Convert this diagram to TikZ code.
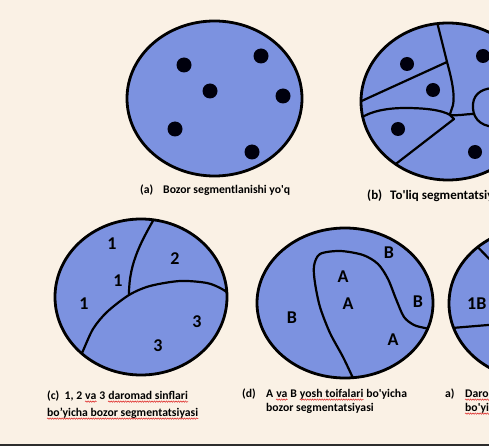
\documentclass[tikz,border=0pt]{standalone}
\usepackage{fontspec}
\setmainfont{Carlito}
\usetikzlibrary{decorations.pathmorphing}
\definecolor{bg}{RGB}{250,241,229}
\definecolor{blob}{RGB}{124,146,224}
\definecolor{rulecol}{RGB}{45,45,45}
\definecolor{wavered}{RGB}{220,30,30}
\tikzset{
  border/.style={draw=black, line width=2.8pt},
  inner/.style={draw=black, line width=2.2pt, line cap=round, line join=round},
  dot/.style={fill=black!95!blue},
  captxt/.style={anchor=base west, inner sep=0pt, font=\fontsize{11.7}{14}\selectfont\bfseries},
  bigcap/.style={captxt, font=\fontsize{13}{15}\selectfont\bfseries},
  lbl/.style={inner sep=0pt, font=\fontsize{18}{20}\selectfont\bfseries},
  wave/.style={draw=wavered, line width=0.5pt, decorate, decoration={snake, amplitude=0.7pt, segment length=2.4pt}},
}
\newcommand\wavenode[1]{\draw[wave] ([yshift=-2.6pt]#1.base west) -- ([yshift=-2.6pt]#1.base east);}
\begin{document}
\begin{tikzpicture}[x=1pt,y=-1pt]
\useasboundingbox (0,0) rectangle (489,446);
\fill[bg] (0,0) rectangle (489,446);
\clip (0,0) rectangle (489,446);
% ---------- (a)
\fill[blob] (214.5,98.5) ellipse [x radius=87.5pt, y radius=77.5pt];
\foreach \p in {(184,65),(261,56),(210,91),(283,96),(175,129),(252,152)}
  \fill[dot] \p circle [radius=7.5pt];
\draw[border] (214.5,98.5) ellipse [x radius=87.5pt, y radius=77.5pt];
\node[captxt] (capa1) at (140,193.5) {(a)};
\node[captxt] (capa2) at (163,193.5) {Bozor segmentlanishi yo\textquotesingle q};
% ---------- (b)
\begin{scope}
\clip (448,101.5) ellipse [x radius=87pt, y radius=78.5pt];
\fill[blob] (448,101.5) ellipse [x radius=87pt, y radius=78.5pt];
\draw[inner] (436,18) -- (447,62) .. controls (452,80) and (455,95) .. (453,105) -- (450,114);
\draw[inner] (447,62) -- (355,104);
\draw[inner] (355,123) .. controls (365,112) and (385,108) .. (405,108) .. controls (425,108) and (442,110) .. (450,115);
\draw[inner] (450,115) -- (454,119);
\draw[inner] (454,119) -- (388,170);
\draw[inner] (450,115) .. controls (458,116) and (465,114) .. (474,114);
\draw[inner] (495,88) .. controls (485,88) and (474,92) .. (473,104) .. controls (472,116) and (478,126) .. (495,127);
\end{scope}
\foreach \p in {(407,64),(433,90),(398,129),(475,152),(483,56)}
  \fill[dot] \p circle [radius=7pt];
\draw[border] (448,101.5) ellipse [x radius=87pt, y radius=78.5pt];
\node[bigcap] (capb1) at (367,199.5) {(b)};
\node[bigcap] (capb2) at (390,199.5) {To\textquotesingle liq segmentatsiya};
% ---------- (c)
\begin{scope}
\clip (141,297) ellipse [x radius=86pt, y radius=78pt];
\fill[blob] (141,297) ellipse [x radius=86pt, y radius=78pt];
\draw[inner] (158,212) .. controls (142,240) and (129,262) .. (129,294);
\draw[inner] plot[smooth] coordinates {(76,364) (82,353) (93,329) (107,312) (129,295) (150,286) (180,281) (207,283) (222,289) (232,296)};
\end{scope}
\draw[border] (141,297) ellipse [x radius=86pt, y radius=78pt];
\node[lbl] (c1) at (112,244) {1};
\node[lbl] (c2) at (175,259) {2};
\node[lbl] (c3) at (118,281) {1};
\node[lbl] (c4) at (84,304) {1};
\node[lbl] (c5) at (197,322) {3};
\node[lbl] (c6) at (158,346) {3};
\node[captxt] (cc1) at (47,399) {(c)\ \ 1, 2};
\node[captxt] (cc2) at ([xshift=2.6pt]cc1.base east) {va};
\node[captxt] (cc3) at ([xshift=2.6pt]cc2.base east) {3};
\node[captxt] (cc4) at ([xshift=2.6pt]cc3.base east) {daromad sinflari};
\node[captxt] (cc5) at (47,416) {bo’yicha bozor segmentatsiyasi};
\wavenode{cc2}
\wavenode{cc4}
\wavenode{cc5}
% ---------- (d)
\begin{scope}
\clip (345,303) ellipse [x radius=88pt, y radius=75pt];
\fill[blob] (345,303) ellipse [x radius=88pt, y radius=75pt];
\draw[inner] plot[smooth] coordinates {(357,386) (353,378) (343,357) (330,333) (320,307) (315,283) (314,266) (320,254) (340,251) (363,255) (378,264) (388,279) (396,299) (404,317) (414,325) (425,328) (440,331)};
\end{scope}
\draw[border] (345,303) ellipse [x radius=88pt, y radius=75pt];
\node[lbl] (d1) at (389,253) {B};
\node[lbl] (d2) at (343,277) {A};
\node[lbl] (d3) at (348,304) {A};
\node[lbl] (d4) at (418,302) {B};
\node[lbl] (d5) at (292,318) {B};
\node[lbl] (d6) at (393,340) {A};
\node[captxt] (cd0) at (242,397) {(d)};
\node[captxt] (cd1) at (266,397) {A};
\node[captxt] (cd2) at ([xshift=2.6pt]cd1.base east) {va};
\node[captxt] (cd3) at ([xshift=2.6pt]cd2.base east) {B};
\node[captxt] (cd4) at ([xshift=2.6pt]cd3.base east) {yosh toifalari};
\node[captxt] (cd5) at ([xshift=2.6pt]cd4.base east) {bo\textquotesingle yicha};
\node[captxt] (cd6) at (266,411) {bozor segmentatsiyasi};
\wavenode{cd2}
\wavenode{cd4}
% ---------- (e)
\begin{scope}
\clip (536,303.5) ellipse [x radius=87pt, y radius=76pt];
\fill[blob] (536,303.5) ellipse [x radius=87pt, y radius=76pt];
\draw[inner] (465,234) -- (502,272);
\draw[inner] (440,329) .. controls (470,327) .. (500,324);
\end{scope}
\draw[border] (536,303.5) ellipse [x radius=87pt, y radius=76pt];
\node[lbl, anchor=west] (e1) at (467,304) {1B};
\node[captxt] (ce1) at (445,397) {a)};
\node[captxt] (ce2) at (465,397) {Daromad};
\node[captxt] (ce3) at (465,411) {bo\textquotesingle yicha};
\wavenode{ce2}
\wavenode{ce3}
% ---------- bottom rule
\draw[rulecol, line width=2pt] (0,444.5) -- (489,444.5);
\end{tikzpicture}
\end{document}
